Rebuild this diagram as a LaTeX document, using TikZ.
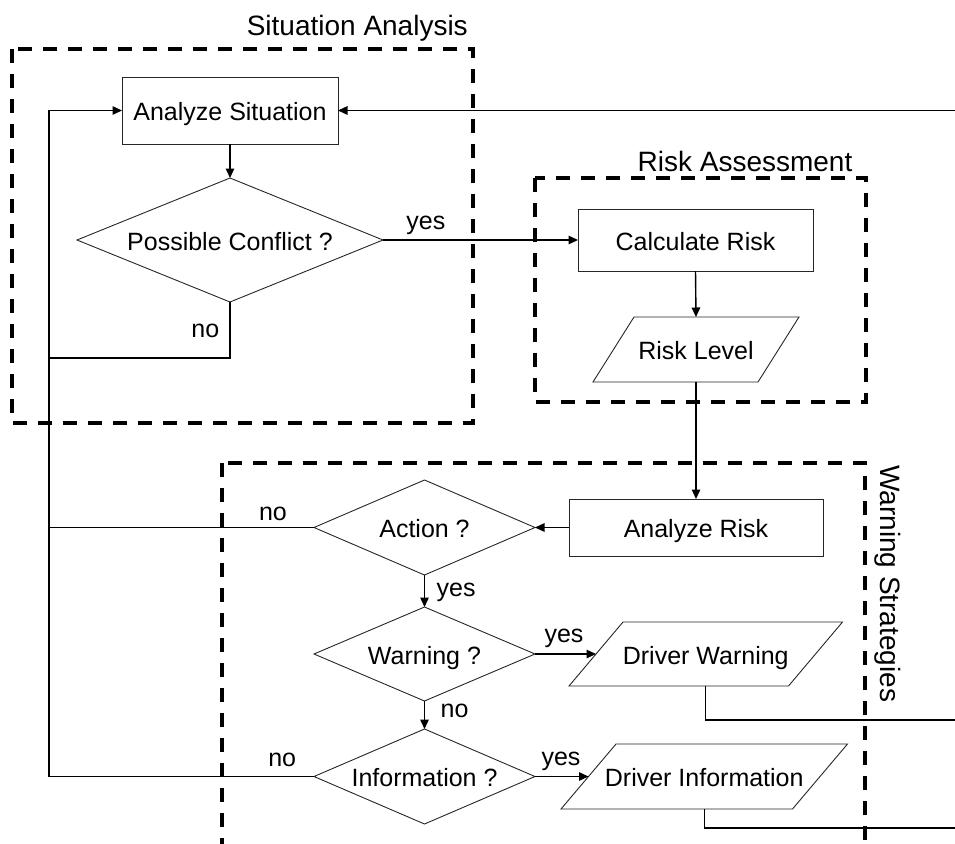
\documentclass[tikz,border=0pt]{standalone}
\usepackage{fontspec}
\setmainfont{Liberation Sans}
\usetikzlibrary{shapes.geometric,arrows.meta,calc}

\newcommand\boxtextfont{\fontsize{25}{30}\selectfont}
\newcommand\grouptextfont{\fontsize{28}{34}\selectfont}

\tikzset{
  box/.style={draw=black!85, line width=0.9pt},
  boxtext/.style={font=\boxtextfont, text height=20pt, text depth=0pt, inner sep=0pt, outer sep=0pt},
  procbox/.style={box, rectangle, boxtext},
  decision/.style={box, diamond, boxtext},
  iobox/.style={rectangle, boxtext},
  flow/.style={line width=1.4pt, -{Triangle[length=9.5pt,width=8.5pt]}},
  link/.style={line width=1.4pt},
  lbl/.style={font=\boxtextfont, inner sep=0pt},
  groupbox/.style={line width=3.5pt, dash pattern=on 14pt off 11pt},
  grouptitle/.style={font=\grouptextfont, inner sep=0pt},
}

% parallelogram outline around a (borderless) rectangle node: name, slant
\newcommand\drawparallelogram[2]{%
  \draw[box] ($(#1.north west)+(#2/2,0)$) -- ($(#1.north east)+(#2/2,0)$)
    -- ($(#1.south east)-(#2/2,0)$) -- ($(#1.south west)-(#2/2,0)$) -- cycle;}

\begin{document}
\begin{tikzpicture}[x=1pt, y=-1pt]
  \clip (0,0) rectangle (955,843);

  % group frames and their titles
  \draw[groupbox] (12,49) rectangle (473,423);
  \node[grouptitle, anchor=base east] (sitTitle) at (468,36) {Situation Analysis};
  \draw[groupbox] (535,178) rectangle (866,402);
  \node[grouptitle, anchor=base] (riskTitle) at (745,171) {Risk Assessment};
  \draw[groupbox] (222,463) rectangle (865,880);
  \node[grouptitle, anchor=base west, rotate=-90] (warnTitle) at (880,465) {Warning Strategies};

  % situation analysis
  \node[procbox, minimum width=216pt, minimum height=67pt] (as) at (230,110.5) {Analyze Situation};
  \node[decision, shape aspect=2.468, minimum width=306pt, minimum height=124pt] (pc) at (230,240) {Possible Conflict ?};

  % risk assessment
  \node[procbox, minimum width=235pt, minimum height=62pt] (cr) at (695.5,240) {Calculate Risk};
  \node[iobox, minimum width=165pt, minimum height=65pt] (rl) at (696,349.5) {Risk Level};
  \drawparallelogram{rl}{41}

  % warning strategies
  \node[procbox, minimum width=254pt, minimum height=57pt] (ar) at (696,527.5) {Analyze Risk};
  \node[decision, shape aspect=2.326, minimum width=221pt, minimum height=95pt] (act) at (424.5,527.5) {Action ?};
  \node[decision, shape aspect=2.351, minimum width=221pt, minimum height=94pt] (warn) at (424.5,654) {Warning ?};
  \node[decision, shape aspect=2.326, minimum width=221pt, minimum height=95pt] (info) at (424.5,776.5) {Information ?};
  \node[iobox, minimum width=219.5pt, minimum height=64pt] (dw) at (705.75,654) {Driver Warning};
  \drawparallelogram{dw}{54}
  \node[iobox, minimum width=231.5pt, minimum height=65pt] (di) at (704.25,776.5) {Driver Information};
  \drawparallelogram{di}{55}

  % rail on the left and loose ends on the right
  \coordinate (rail) at (49,0);
  \coordinate (pcjoin) at (49,358);
  \coordinate (feedback) at (960,110.5);
  \coordinate (warnout) at (960,720);
  \coordinate (infoout) at (960,828);

  % connectors
  \draw[flow] (as.south) -- (pc.north);
  \draw[flow] (pc.east) -- node[lbl, pos=0.22, anchor=base, yshift=11pt] (yes1) {yes} (cr.west);
  \draw[link] (pc.south) -- node[lbl, pos=0.625, anchor=base east, xshift=-10pt] (no1) {no} (pc.south |- pcjoin) -- (pcjoin);
  \draw[flow] (cr.south) -- (rl.north);
  \draw[flow] (rl.south) -- (ar.north);
  \draw[flow] (ar.west) -- (act.east);
  \draw[link] (act.west) -- node[lbl, pos=0.155, anchor=base, yshift=7.5pt] (no2) {no} (act.west -| rail);
  \draw[flow] (act.south) -- node[lbl, pos=0.66, anchor=base west, xshift=11.5pt] (yes2) {yes} (warn.north);
  \draw[flow] (warn.east) -- node[lbl, pos=0.475, anchor=base, yshift=12pt] (yes3) {yes} (dw.west);
  \draw[flow] (warn.south) -- node[lbl, pos=0.6, anchor=base west, xshift=15.5pt] (no3) {no} (info.north);
  \draw[flow] (info.east) -- node[lbl, pos=0.486, anchor=base, yshift=11.5pt] (yes4) {yes} (di.west);
  \draw[flow] (info.west) -- node[lbl, pos=0.12, anchor=base, yshift=10pt] (no4) {no} (info.west -| rail) |- (as.west);
  \draw[flow] (feedback) -- (as.east);
  \draw[link] (dw.south) |- (warnout);
  \draw[link] (di.south) |- (infoout);
\end{tikzpicture}
\end{document}
